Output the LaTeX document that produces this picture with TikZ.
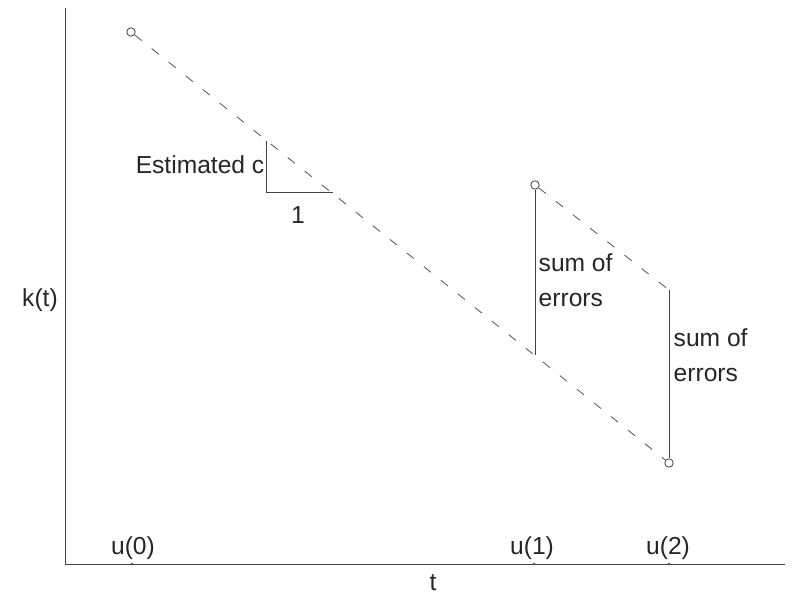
\documentclass[tikz,border=0pt]{standalone}
\usepackage{fontspec}
\setmainfont{Liberation Sans}
\usepackage{tikz}
\usetikzlibrary{positioning}

\begin{document}
\begin{tikzpicture}[
x=0.025cm, y=-0.025cm,
axis/.style={
    draw=black!75,
    line width=0.7pt
},
pt/.style={
    circle, draw=black!70,
    minimum size=6pt, inner sep=0pt,
    line width=0.6pt
},
tick/.style={
    circle, fill=black!70,
    minimum size=1.8pt, inner sep=0pt
},
lbl/.style={
    font=\fontsize{17.5}{25}\selectfont,
    inner sep=1pt,
    text=black!85
},
fit/.style={
    draw=black!65, line width=0.6pt,
    dash pattern=on 6.5pt off 9pt
},
err/.style={draw=black!75, line width=0.6pt}
]

\useasboundingbox (0,0) rectangle (794,596);

% axes
\coordinate (origin) at (65,564);
\coordinate (ytop) at (65,8);
\coordinate (xend) at (785,564);
\draw[axis] (ytop) -- (origin) -- (xend);
\node[lbl] (klabel) at (40,300) {k(t)};
\node[lbl] (tlabel) at (433,583) {t};

% observation times
\node[tick] (t0) at (132,564) {};
\node[tick] (t1) at (534,564) {};
\node[tick] (t2) at (669,564) {};
\node[lbl] (u0) at (133,548) {u(0)};
\node[lbl] (u1) at (532,548) {u(1)};
\node[lbl] (u2) at (668,548) {u(2)};

% points
\node[pt] (p0) at (131,32) {};
\node[pt] (p1) at (535,185) {};
\node[pt] (p2) at (669,463) {};
\coordinate (q1) at (535,355);
\coordinate (q2) at (669,290);

% fitted lines
\draw[fit] (p0) -- (p2);
\draw[fit] (p1) -- (q2);

% errors
\draw[err] (p1.south) -- (q1);
\draw[err] (q2) -- (p2.north);
\node[lbl, anchor=west, align=left] (e1) at (537,280) {sum of\\errors};
\node[lbl, anchor=west, align=left] (e2) at (672,355) {sum of\\errors};

% slope
\coordinate (s1) at (266,141);
\coordinate (s2) at (266,192);
\coordinate (s3) at (333,192);
\draw[err] (s1) -- (s2) -- (s3);
\node[lbl, anchor=east] (slope) at (s1 |- 0,165) {Estimated c};
\node[lbl] (one) at (298,215) {1};

\end{tikzpicture}
\end{document}
